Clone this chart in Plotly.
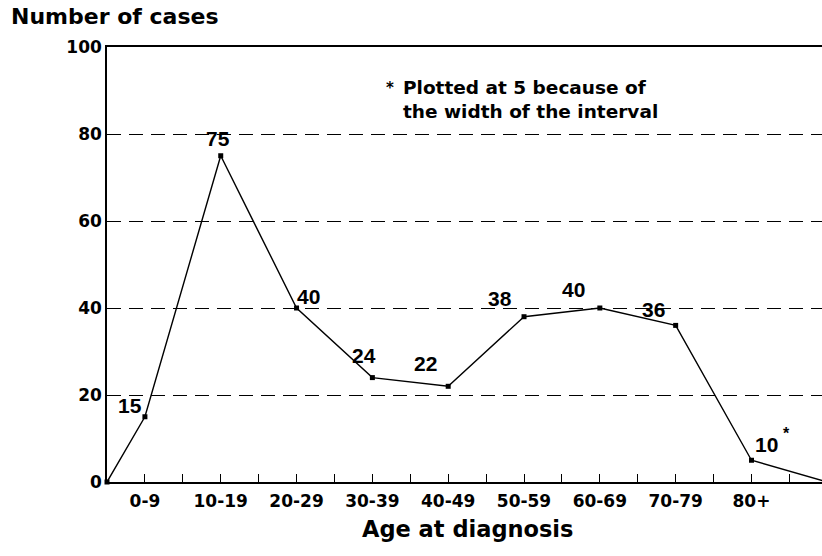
import plotly.graph_objects as go

# ---- data ----
categories = ["0-9", "10-19", "20-29", "30-39", "40-49", "50-59", "60-69", "70-79", "80+"]
interval_start = [0, 10, 20, 30, 40, 50, 60, 70, 80]
cases = [15, 75, 40, 24, 22, 38, 40, 36, 10]
plotted_cases = [15, 75, 40, 24, 22, 38, 40, 36, 5]   # 80+ plotted at 5
label_text = ["15", "75", "40", "24", "22", "38", "40", "36", "10"]
anchor_ages = [0, 95]
anchor_values = [0, 0]
y_ticks = [0, 20, 40, 60, 80, 100]

mid_ages = [s + 5 for s in interval_start]
x_all = [anchor_ages[0]] + mid_ages + [anchor_ages[1]]
y_all = [anchor_values[0]] + plotted_cases + [anchor_values[1]]

BOLD = "DejaVu Sans"

fig = go.Figure()
fig.add_trace(go.Scatter(
    x=x_all, y=y_all, mode="lines+markers",
    line=dict(color="black", width=1.4),
    marker=dict(symbol="square", size=5, color="black"),
    hoverinfo="skip", showlegend=False, cliponaxis=False,
))

# data labels (pixel offsets from each point)
offsets = [(-15, 11), (-3, 17), (12, 12), (-8, 22), (-23, 23), (-24, 18), (-26, 19), (-22, 16), (15, 16)]
for xa, ya, t, (dx, dy) in zip(mid_ages, plotted_cases, label_text, offsets):
    fig.add_annotation(x=xa, y=ya, text=t, showarrow=False, xshift=dx, yshift=dy,
                       font=dict(family="Liberation Sans", size=21, color="black", weight="bold"))
# asterisk on 10
fig.add_annotation(x=mid_ages[-1], y=plotted_cases[-1], text="*", showarrow=False,
                   xshift=35, yshift=27,
                   font=dict(family="Liberation Sans", size=16, color="black", weight="bold"))

# note
fig.add_annotation(xref="paper", yref="paper", x=0, y=1, xanchor="left", yanchor="top",
                   xshift=294, yshift=-28, align="left", showarrow=False,
                   text="Plotted at 5 because of<br>the width of the interval",
                   font=dict(family=BOLD, size=18.5, color="black", weight="bold"))
fig.add_annotation(xref="paper", yref="paper", x=0, y=1, xanchor="left", yanchor="top",
                   xshift=277, yshift=-30, showarrow=False, text="*",
                   font=dict(family=BOLD, size=15, color="black", weight="bold"))

# titles
fig.add_annotation(xref="paper", yref="paper", x=0, y=1, xanchor="left", yanchor="middle",
                   xshift=-97, yshift=31, showarrow=False, borderpad=0, text="Number of cases",
                   font=dict(family=BOLD, size=22, color="black", weight="bold"))
fig.add_annotation(xref="paper", yref="paper", x=0.5, y=0, xanchor="center", yanchor="middle",
                   xshift=3, yshift=-47, showarrow=False, text="Age at diagnosis",
                   font=dict(family=BOLD, size=22.5, color="black", weight="bold"))

tickvals_x = list(range(0, 91, 5))
ticktext_x = []
for v in tickvals_x:
    if v in mid_ages:
        ticktext_x.append(categories[mid_ages.index(v)])
    else:
        ticktext_x.append("")

fig.update_layout(
    width=822, height=556,
    margin=dict(l=107, r=0, t=47, b=74),
    paper_bgcolor="white", plot_bgcolor="white",
    xaxis=dict(
        range=[0, 94.3], tickmode="array", tickvals=tickvals_x, ticktext=ticktext_x,
        ticks="inside", ticklen=8, tickwidth=1.3, tickcolor="black",
        showline=True, linecolor="black", linewidth=1.6, mirror=True,
        showgrid=False, zeroline=False, ticklabelstandoff=3,
        tickfont=dict(family=BOLD, size=17, color="black", weight="bold"),
    ),
    yaxis=dict(
        range=[0, 100], tickmode="array", tickvals=y_ticks,
        ticks="inside", ticklen=6, tickwidth=1, tickcolor="black",
        showline=True, linecolor="black", linewidth=1.6,
        showgrid=True, gridcolor="black", gridwidth=1, griddash="14px,8px",
        zeroline=False,
        tickfont=dict(family=BOLD, size=17, color="black", weight="bold"),
    ),
)

# remove the default 8px page margin so the 822x556 figure fills the window
fig.write_html("out.html",
               config={"displayModeBar": False},
               post_script="document.body.style.margin='0';document.body.style.overflow='hidden';")
